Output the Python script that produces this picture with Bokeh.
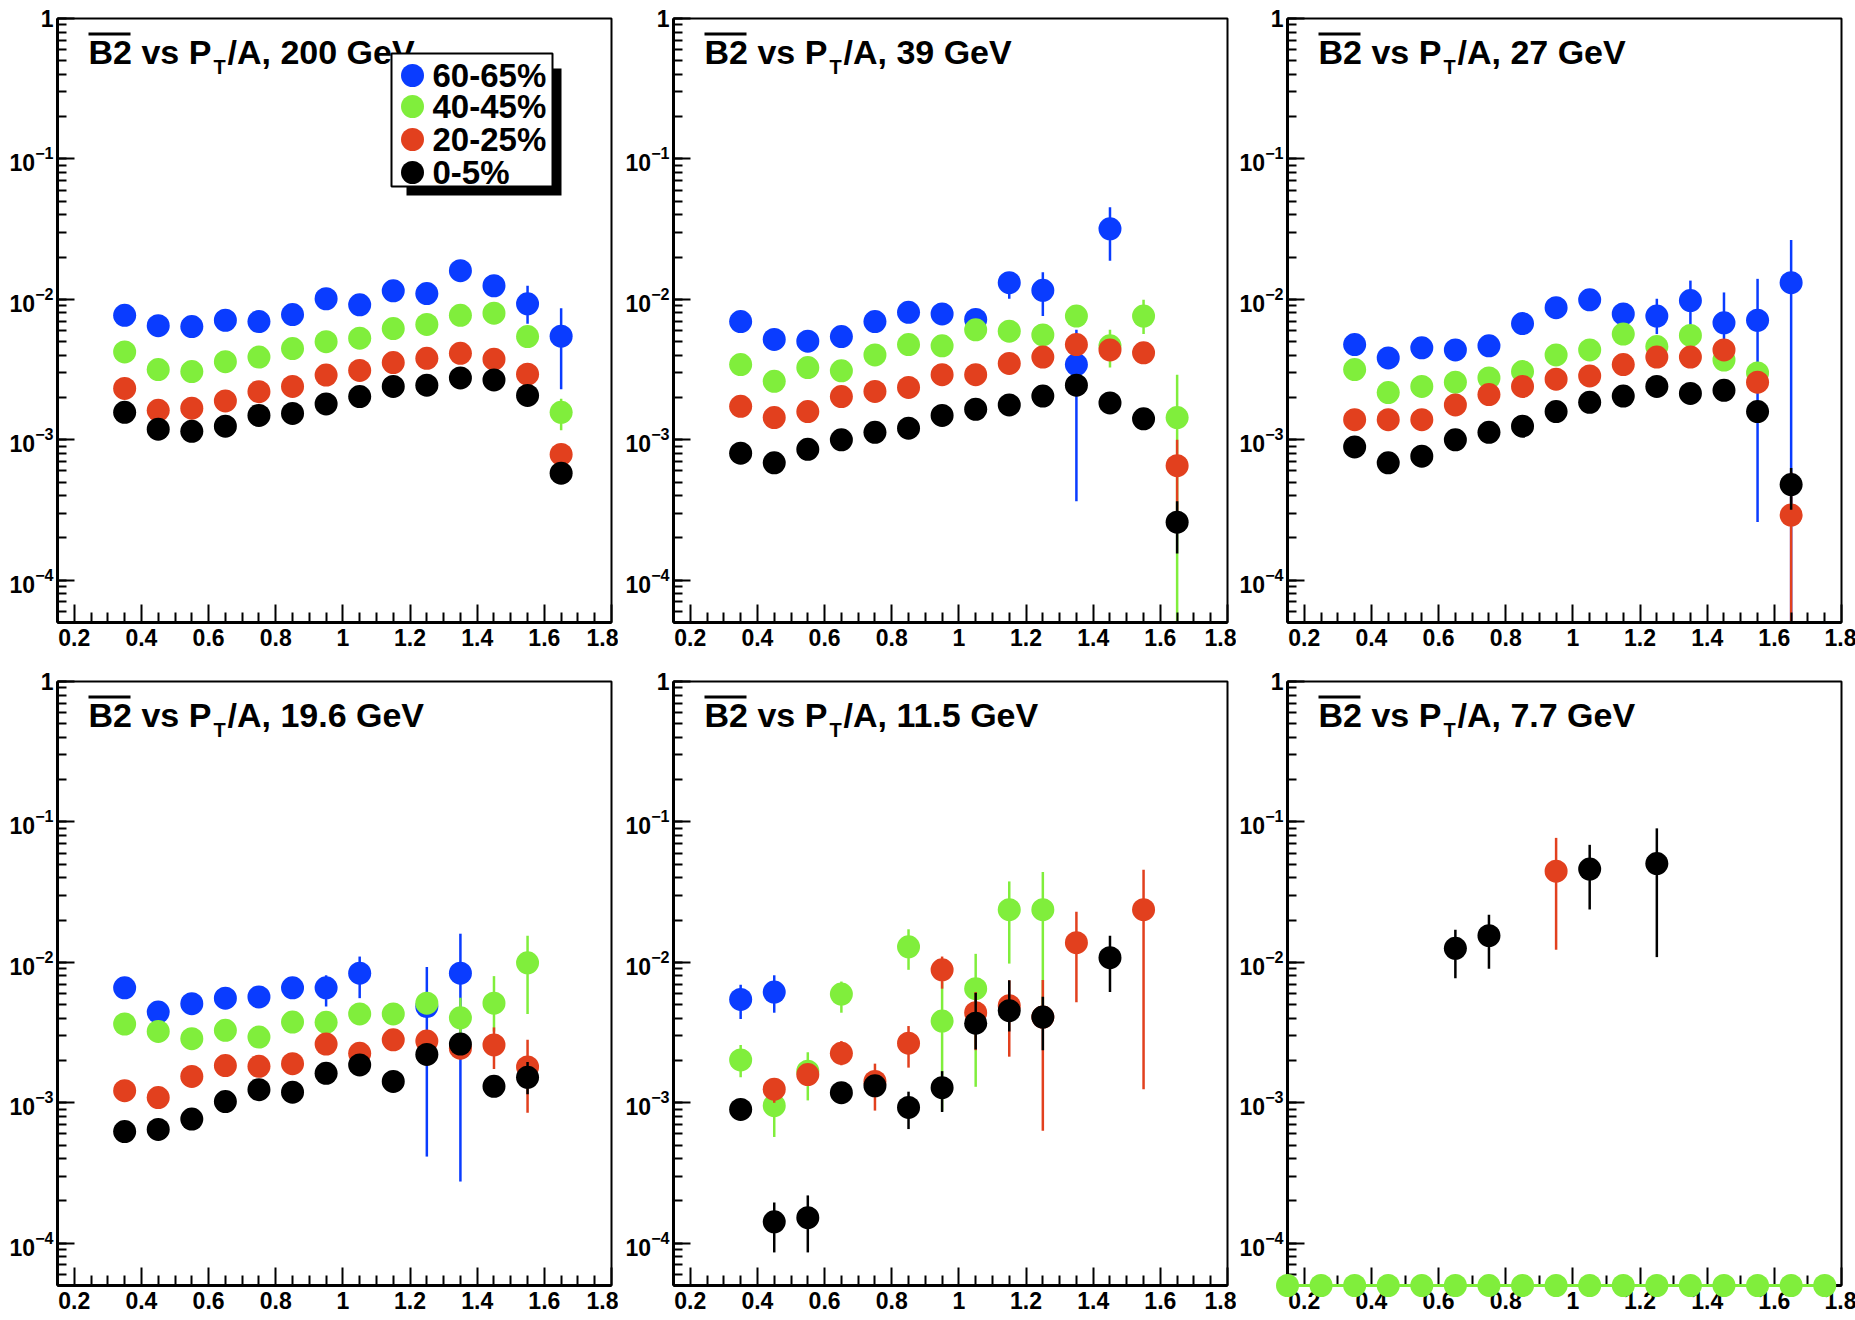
import math
from bokeh.plotting import figure
from bokeh.layouts import gridplot
from bokeh.models import (Range1d, FixedTicker, CustomJSTickFormatter, Label,
                          BoxAnnotation)
from bokeh.embed import file_html
from bokeh.resources import INLINE

# ---------------------------------------------------------------- data
PT = [0.35, 0.45, 0.55, 0.65, 0.75, 0.85, 0.95, 1.05, 1.15, 1.25, 1.35, 1.45, 1.55, 1.65]
PT77 = [0.15, 0.25, 0.35, 0.45, 0.55, 0.65, 0.75, 0.85, 0.95, 1.05, 1.15, 1.25, 1.35,
        1.45, 1.55, 1.65, 1.75]

ENERGIES = ["200", "39", "27", "19.6", "11.5", "7.7"]
CENTRALITIES = ["60-65%", "40-45%", "20-25%", "0-5%"]
COLORS = ["#0a3cff", "#80ee3c", "#e2401e", "#000000"]

N = None
# 200 GeV
B2_200_6065 = [7.7e-3, 6.5e-3, 6.4e-3, 7.1e-3, 6.95e-3, 7.8e-3, 1.01e-2, 9.15e-3, 1.15e-2, 1.10e-2, 1.60e-2, 1.25e-2, 9.3e-3, 5.47e-3]
E_200_6065 = [N, N, N, N, N, N, N, N, N, N, N, N, (6.7e-3, 1.25e-2), (2.29e-3, 8.66e-3)]
B2_200_4045 = [4.22e-3, 3.16e-3, 3.06e-3, 3.6e-3, 3.88e-3, 4.46e-3, 5.0e-3, 5.29e-3, 6.19e-3, 6.63e-3, 7.7e-3, 7.97e-3, 5.43e-3, 1.57e-3]
E_200_4045 = [N, N, N, N, N, N, N, N, N, N, N, N, N, (1.17e-3, 1.96e-3)]
B2_200_2025 = [2.32e-3, 1.62e-3, 1.68e-3, 1.89e-3, 2.2e-3, 2.4e-3, 2.89e-3, 3.12e-3, 3.55e-3, 3.8e-3, 4.13e-3, 3.75e-3, 2.93e-3, 7.87e-4]
E_200_2025 = [N, N, N, N, N, N, N, N, N, N, N, N, N, N]
B2_200_0005 = [1.57e-3, 1.19e-3, 1.15e-3, 1.25e-3, 1.49e-3, 1.54e-3, 1.80e-3, 2.03e-3, 2.4e-3, 2.45e-3, 2.76e-3, 2.67e-3, 2.07e-3, 5.78e-4]
E_200_0005 = [N, N, N, N, N, N, N, N, N, N, N, N, N, N]

# 39 GeV
B2_39_6065 = [6.95e-3, 5.18e-3, 5.04e-3, 5.43e-3, 6.95e-3, 8.09e-3, 7.87e-3, 7.2e-3, 1.315e-2, 1.16e-2, 3.43e-3, 3.18e-2, N, N]
E_39_6065 = [N, N, N, N, N, N, N, N, (1.01e-2, 1.53e-2), (7.6e-3, 1.56e-2), (3.65e-4, 6.07e-3), (1.88e-2, 4.52e-2), N, N]
B2_39_4045 = [3.43e-3, 2.61e-3, 3.27e-3, 3.1e-3, 4.02e-3, 4.77e-3, 4.67e-3, 6.07e-3, 5.94e-3, 5.58e-3, 7.6e-3, 4.67e-3, 7.6e-3, 1.44e-3]
E_39_4045 = [N, N, N, N, N, N, N, N, N, N, N, (3.27e-3, 6.07e-3), (5.66e-3, 9.93e-3), (5e-5, 2.91e-3)]
B2_39_2025 = [1.73e-3, 1.44e-3, 1.59e-3, 2.03e-3, 2.21e-3, 2.36e-3, 2.91e-3, 2.91e-3, 3.5e-3, 3.88e-3, 4.77e-3, 4.36e-3, 4.16e-3, 6.54e-4]
E_39_2025 = [N, N, N, N, N, N, N, N, N, N, N, N, N, (2.6e-4, 1.0e-3)]
B2_39_0005 = [8.03e-4, 6.86e-4, 8.55e-4, 1.0e-3, 1.13e-3, 1.21e-3, 1.49e-3, 1.65e-3, 1.77e-3, 2.05e-3, 2.45e-3, 1.83e-3, 1.41e-3, 2.59e-4]
E_39_0005 = [N, N, N, N, N, N, N, N, N, N, N, N, N, (1.55e-4, 3.65e-4)]

# 27 GeV
B2_27_6065 = [4.77e-3, 3.83e-3, 4.52e-3, 4.36e-3, 4.67e-3, 6.72e-3, 8.72e-3, 9.93e-3, 7.87e-3, 7.6e-3, 9.8e-3, 6.81e-3, 7.1e-3, 1.315e-2]
E_27_6065 = [N, N, N, N, N, N, N, N, N, (5.66e-3, 1.01e-2), (6.5e-3, 1.36e-2), (4.61e-3, 1.12e-2), (2.6e-4, 1.4e-2), (5e-5, 2.65e-2)]
B2_27_4045 = [3.16e-3, 2.17e-3, 2.4e-3, 2.57e-3, 2.76e-3, 3.06e-3, 4.02e-3, 4.36e-3, 5.66e-3, 4.61e-3, 5.54e-3, 3.7e-3, 2.99e-3, N]
E_27_4045 = [N, N, N, N, N, N, N, N, N, N, N, N, N, N]
B2_27_2025 = [1.39e-3, 1.39e-3, 1.39e-3, 1.77e-3, 2.1e-3, 2.4e-3, 2.7e-3, 2.85e-3, 3.43e-3, 3.88e-3, 3.88e-3, 4.36e-3, 2.57e-3, 2.91e-4]
E_27_2025 = [N, N, N, N, N, N, N, N, N, N, N, N, N, (5e-5, 5.9e-4)]
B2_27_0005 = [8.9e-4, 6.86e-4, 7.65e-4, 1.0e-3, 1.13e-3, 1.25e-3, 1.59e-3, 1.85e-3, 2.05e-3, 2.4e-3, 2.14e-3, 2.25e-3, 1.59e-3, 4.8e-4]
E_27_0005 = [N, N, N, N, N, N, N, N, N, N, N, N, N, (3.18e-4, 6.3e-4)]

# 19.6 GeV
B2_196_6065 = [6.59e-3, 4.43e-3, 5.08e-3, 5.56e-3, 5.67e-3, 6.59e-3, 6.59e-3, 8.37e-3, N, 4.85e-3, 8.37e-3, N, N, N]
E_196_6065 = [N, N, N, N, N, N, (4.85e-3, 8.09e-3), (5.56e-3, 1.1e-2), N, (4.14e-4, 9.27e-3), (2.75e-4, 1.6e-2), N, N, N]
B2_196_4045 = [3.64e-3, 3.22e-3, 2.86e-3, 3.28e-3, 2.94e-3, 3.76e-3, 3.74e-3, 4.29e-3, 4.29e-3, 5.12e-3, 4.03e-3, 5.12e-3, 9.93e-3, N]
E_196_4045 = [N, N, N, N, N, N, N, N, N, N, (3.0e-3, 5.6e-3), (3.22e-3, 7.98e-3), (4.29e-3, 1.55e-2), N]
B2_196_2025 = [1.22e-3, 1.09e-3, 1.54e-3, 1.84e-3, 1.82e-3, 1.9e-3, 2.62e-3, 2.25e-3, 2.81e-3, 2.75e-3, 2.45e-3, 2.58e-3, 1.8e-3, N]
E_196_2025 = [N, N, N, N, N, N, N, N, N, N, N, (1.74e-3, 3.44e-3), (8.49e-4, 2.81e-3), N]
B2_196_0005 = [6.24e-4, 6.46e-4, 7.66e-4, 1.02e-3, 1.24e-3, 1.19e-3, 1.62e-3, 1.86e-3, 1.42e-3, 2.21e-3, 2.62e-3, 1.31e-3, 1.52e-3, N]
E_196_0005 = [N, N, N, N, N, N, N, N, N, N, N, (1.1e-3, 1.5e-3), (1.15e-3, 1.95e-3), N]

# 11.5 GeV
B2_115_6065 = [5.44e-3, 6.15e-3, N, N, N, N, N, N, N, N, N, N, N, N]
E_115_6065 = [(3.95e-3, 6.92e-3), (4.38e-3, 8.09e-3), N, N, N, N, N, N, N, N, N, N, N, N]
B2_115_4045 = [2.02e-3, 9.53e-4, 1.68e-3, 5.95e-3, N, 1.29e-2, 3.82e-3, 6.5e-3, 2.37e-2, 2.37e-2, N, N, N, N]
E_115_4045 = [(1.52e-3, 2.58e-3), (5.71e-4, 1.24e-3), (1.04e-3, 2.29e-3), (4.38e-3, 7.3e-3), N,
              (8.85e-3, 1.72e-2), (8.8e-4, 7.3e-3), (1.3e-3, 1.15e-2), (9.8e-3, 3.77e-2), (4.2e-3, 4.4e-2), N, N, N, N]
B2_115_2025 = [N, 1.25e-3, 1.59e-3, 2.25e-3, 1.42e-3, 2.66e-3, 8.85e-3, 4.38e-3, 4.91e-3, 4.08e-3, 1.38e-2, N, 2.37e-2, N]
E_115_2025 = [N, (1.0e-3, 1.5e-3), N, (1.85e-3, 2.75e-3), (8.8e-4, 1.9e-3), (1.78e-3, 3.52e-3), (6.5e-3, 1.1e-2),
              (2.37e-3, 6.15e-3), (2.13e-3, 7.45e-3), (6.33e-4, 7.5e-3), (5.19e-3, 2.29e-2), N, (1.25e-3, 4.56e-2), N]
B2_115_0005 = [8.97e-4, 1.42e-4, 1.52e-4, 1.18e-3, 1.32e-3, 9.27e-4, 1.28e-3, 3.69e-3, 4.53e-3, 4.08e-3, N, 1.08e-2, N, N]
E_115_0005 = [N, (8.6e-5, 1.95e-4), (8.6e-5, 2.19e-4), N, N, (6.5e-4, 1.2e-3), (8.6e-4, 1.68e-3), (2.4e-3, 6.07e-3),
              (3.22e-3, 7.45e-3), (2.37e-3, 5.7e-3), N, (6.15e-3, 1.55e-2), N, N]

# 7.7 GeV (x = PT77)
B2_77_6065 = [N, N, N, N, N, N, N, N, N, N, N, N, N, N, N, N, N]
E_77_6065 = [N, N, N, N, N, N, N, N, N, N, N, N, N, N, N, N, N]
B2_77_4045 = [0.0, 0.0, 0.0, 0.0, 0.0, 0.0, 0.0, 0.0, 0.0, 0.0, 0.0, 0.0, 0.0, 0.0, 0.0, 0.0, 0.0]
E_77_4045 = [N, N, N, N, N, N, N, N, N, N, N, N, N, N, N, N, N]
B2_77_2025 = [N, N, N, N, N, N, N, N, 4.46e-2, N, N, N, N, N, N, N, N]
E_77_2025 = [N, N, N, N, N, N, N, N, (1.23e-2, 7.7e-2), N, N, N, N, N, N, N, N]
B2_77_0005 = [N, N, N, N, N, 1.26e-2, 1.55e-2, N, N, 4.62e-2, N, 5.05e-2, N, N, N, N, N]
E_77_0005 = [N, N, N, N, N, (7.7e-3, 1.71e-2), (9.0e-3, 2.18e-2), N, N, (2.38e-2, 6.87e-2), N, (1.09e-2, 9.0e-2), N, N, N, N, N]

PANELS = [
    ("200", PT, [B2_200_6065, B2_200_4045, B2_200_2025, B2_200_0005], [E_200_6065, E_200_4045, E_200_2025, E_200_0005]),
    ("39", PT, [B2_39_6065, B2_39_4045, B2_39_2025, B2_39_0005], [E_39_6065, E_39_4045, E_39_2025, E_39_0005]),
    ("27", PT, [B2_27_6065, B2_27_4045, B2_27_2025, B2_27_0005], [E_27_6065, E_27_4045, E_27_2025, E_27_0005]),
    ("19.6", PT, [B2_196_6065, B2_196_4045, B2_196_2025, B2_196_0005], [E_196_6065, E_196_4045, E_196_2025, E_196_0005]),
    ("11.5", PT, [B2_115_6065, B2_115_4045, B2_115_2025, B2_115_0005], [E_115_6065, E_115_4045, E_115_2025, E_115_0005]),
    ("7.7", PT77, [B2_77_6065, B2_77_4045, B2_77_2025, B2_77_0005], [E_77_6065, E_77_4045, E_77_2025, E_77_0005]),
]

X_MIN, X_MAX = 0.15, 1.8
Y_MIN, Y_MAX = 5e-5, 1.0
X_TICKS = [0.2, 0.4, 0.6, 0.8, 1.0, 1.2, 1.4, 1.6, 1.8]
X_MINOR = [0.25, 0.3, 0.35, 0.45, 0.5, 0.55, 0.65, 0.7, 0.75, 0.85, 0.9, 0.95, 1.05, 1.1, 1.15,
           1.25, 1.3, 1.35, 1.45, 1.5, 1.55, 1.65, 1.7, 1.75]

# ---------------------------------------------------------------- layout
FW, FH = 554, 604
FONT = "Liberation Sans"
BORDER_L = [57, 55, 50]
BORDER_R = [7, 9, 15]
BORDER_T = [18, 12]
BORDER_B = [47, 30]


def make_panel(i, energy, xs, series, errors):
    col, row = i % 3, i // 3
    p = figure(frame_width=FW, frame_height=FH,
               x_range=Range1d(X_MIN, X_MAX), y_range=Range1d(Y_MIN, Y_MAX),
               y_axis_type="log", output_backend="svg", toolbar_location=None,
               min_border_left=BORDER_L[col], min_border_right=BORDER_R[col],
               min_border_top=BORDER_T[row], min_border_bottom=BORDER_B[row],
               background_fill_color="white", border_fill_color="white")
    p.xgrid.visible = False
    p.ygrid.visible = False
    p.outline_line_color = "black"
    p.outline_line_width = 2
    p.outline_line_alpha = 1.0

    p.xaxis.ticker = FixedTicker(ticks=X_TICKS, minor_ticks=X_MINOR)
    p.xaxis.formatter = CustomJSTickFormatter(code="return tick.toFixed(1).replace('.0', '')")
    p.yaxis.major_label_overrides = {1: "1"}
    for ax, big, small in ((p.xaxis[0], 18, 10), (p.yaxis[0], 17, 9)):
        ax.axis_line_width = 3
        ax.axis_line_color = "black"
        ax.major_tick_in = big
        ax.major_tick_out = 0
        ax.minor_tick_in = small
        ax.minor_tick_out = 0
        ax.major_tick_line_width = 2
        ax.minor_tick_line_width = 2
        ax.major_tick_line_color = "black"
        ax.minor_tick_line_color = "black"
        ax.major_label_text_font = FONT
        ax.major_label_text_font_style = "bold"
        ax.major_label_text_font_size = "23px"
        ax.major_label_text_color = "black"
    p.xaxis.major_label_standoff = 6
    p.yaxis.major_label_standoff = 4

    # data: blue, green, red, black (each: error bars then markers)
    for vals, errs, color in zip(series, errors, COLORS):
        ex, elo, ehi = [], [], []
        for x, e in zip(xs, errs):
            if e is not None:
                ex.append(x); elo.append(max(e[0], Y_MIN)); ehi.append(e[1])
        if ex:
            p.segment(x0=ex, y0=elo, x1=ex, y1=ehi, line_color=color, line_width=2.5)
        px = [x for x, v in zip(xs, vals) if v is not None and v > 0]
        py = [v for v in vals if v is not None and v > 0]
        if px:
            p.scatter(px, py, size=23, marker="circle", fill_color=color, line_color=None)
        zx = [x for x, v in zip(xs, vals) if v is not None and v == 0]
        if zx:
            # zero values sit on the floor of the log axis
            zy = [Y_MIN for _ in zx]
            p.line(zx, zy, line_color=color, line_width=3, level="overlay")
            p.scatter(zx, zy, size=23, marker="circle", fill_color=color, line_color=None,
                      level="overlay")

    # title: overline(B2) vs P_T/A, <E> GeV
    p.add_layout(BoxAnnotation(left=31, right=73, top=FH - 14, bottom=FH - 17,
                               left_units="screen", right_units="screen",
                               top_units="screen", bottom_units="screen",
                               fill_color="black", fill_alpha=1.0, line_color=None))
    p.add_layout(Label(x=31, y=FH - 33, x_units="screen", y_units="screen", text="B2 vs P",
                       text_font=FONT, text_font_style="bold", text_font_size="34px",
                       text_baseline="middle", text_color="black"))
    p.add_layout(Label(x=156, y=FH - 48, x_units="screen", y_units="screen", text="T",
                       text_font=FONT, text_font_style="bold", text_font_size="20px",
                       text_baseline="middle", text_color="black"))
    p.add_layout(Label(x=170, y=FH - 33, x_units="screen", y_units="screen",
                       text="/A, %s GeV" % energy,
                       text_font=FONT, text_font_style="bold", text_font_size="34px",
                       text_baseline="middle", text_color="black"))
    return p


panels = [make_panel(i, *pn) for i, pn in enumerate(PANELS)]

# legend in first panel (ROOT style box with shadow)
p0 = panels[0]
p0.add_layout(BoxAnnotation(left=349, right=504, top=FH - 50, bottom=FH - 177,
                            left_units="screen", right_units="screen",
                            top_units="screen", bottom_units="screen",
                            fill_color="black", fill_alpha=1.0, line_color=None))
p0.add_layout(BoxAnnotation(left=334, right=495, top=FH - 35, bottom=FH - 168,
                            left_units="screen", right_units="screen",
                            top_units="screen", bottom_units="screen",
                            fill_color="white", fill_alpha=1.0, line_color="black",
                            line_width=2, line_alpha=1.0))
LEG_OFFSETS = [57, 88, 121, 154]
sw_x = X_MIN + 355.0 / FW * (X_MAX - X_MIN)
decades = math.log10(Y_MAX) - math.log10(Y_MIN)
for name, color, off in zip(CENTRALITIES, COLORS, LEG_OFFSETS):
    sw_y = 10 ** (math.log10(Y_MAX) - off / FH * decades)
    p0.scatter([sw_x], [sw_y], size=23, marker="circle", fill_color=color, line_color=None,
               level="overlay")
    p0.add_layout(Label(x=375, y=FH - off, x_units="screen", y_units="screen", text=name,
                        text_font=FONT, text_font_style="bold", text_font_size="33px",
                        text_baseline="middle", text_color="black"))

grid = gridplot([panels[:3], panels[3:]], toolbar_location=None)
open("out.html", "w").write(file_html(grid, INLINE))
